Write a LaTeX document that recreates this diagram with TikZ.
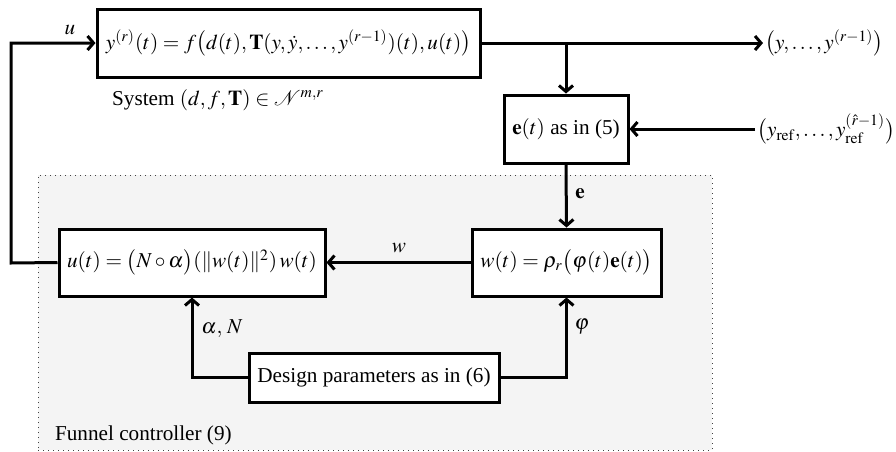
\documentclass[tikz,border=0pt]{standalone}
\usepackage{mathptmx}
\usepackage[no-math]{fontspec}
\setmainfont{Liberation Serif}
\usetikzlibrary{arrows.meta}
\definecolor{fcbg}{HTML}{F4F4F4}
\begin{document}
\begin{tikzpicture}[x=0.5pt,y=-0.5pt,
  every node/.style={font=\fontsize{10.6}{12}\selectfont},
  blk/.style={draw, line width=1.5pt, fill=white, inner sep=0pt, align=center},
  conn/.style={line width=1.5pt, -{Straight Barb[length=3pt,width=7pt]}},
  region/.style={draw=black!75, dotted, line width=0.5pt, fill=fcbg, inner sep=0pt}]
\useasboundingbox (0,0) rectangle (896,451);
\node[region, minimum width=337pt, minimum height=137.5pt] (fc) at (375,312.5) {};
\node[blk, minimum width=191.5pt, minimum height=34pt] (sys) at (288.5,43)
  {$y^{(r)}(t) = f\bigl(d(t),\mathbf{T}(y,\dot y,\dots,y^{(r-1)})(t),u(t)\bigr)$};
\node (syslbl) at (218,100) {System $(d,f,\mathbf{T})\in\mathcal{N}^{m,r}$};
\node[blk, minimum width=62pt, minimum height=34pt] (err) at (566,129) {$\mathbf{e}(t)$ as in (5)};
\node[blk, minimum width=94.5pt, minimum height=33.5pt] (wb) at (566.5,262.5)
  {$w(t)=\rho_r\bigl(\varphi(t)\mathbf{e}(t)\bigr)$};
\node[blk, minimum width=133pt, minimum height=33.5pt] (ub) at (192,262.5)
  {$u(t)=\bigl(N\circ\alpha\bigr)(\|w(t)\|^2)\,w(t)$};
\node[blk, minimum width=125pt, minimum height=24.5pt] (des) at (374,377.5) {Design parameters as in (6)};
\node[anchor=west, inner sep=1pt] (yout) at (763,43) {$\bigl(y,\dots,y^{(r-1)}\bigr)$};
\node[anchor=west, inner sep=1pt] (yref) at (755,129) {$\bigl(y_{\mathrm{ref}},\dots,y_{\mathrm{ref}}^{(\hat r-1)}\bigr)$};
\node[anchor=west] (fclbl) at (48,435) {Funnel controller (9)};
\coordinate (br) at (566,43);
\coordinate (fbl) at (11,263);
\draw[conn] (sys.east) -- (yout.west);
\draw[conn] (br) -- (err.north);
\draw[conn] (yref.west) -- (err.east);
\draw[conn] (err.south) -- (wb.north);
\draw[conn] (wb.west) -- (ub.east);
\draw[conn] (des.west) -| (ub.south);
\draw[conn] (des.east) -| (wb.south);
\draw[conn] (ub.west) -- (fbl) |- (sys.west);
\node (lu) at (70,30) {$u$};
\node (lw) at (399,248) {$w$};
\node (le) at (580,194) {$\mathbf{e}$};
\node (lan) at (222,329) {$\alpha,\,N$};
\node (lphi) at (582,327) {$\varphi$};
\end{tikzpicture}
\end{document}
